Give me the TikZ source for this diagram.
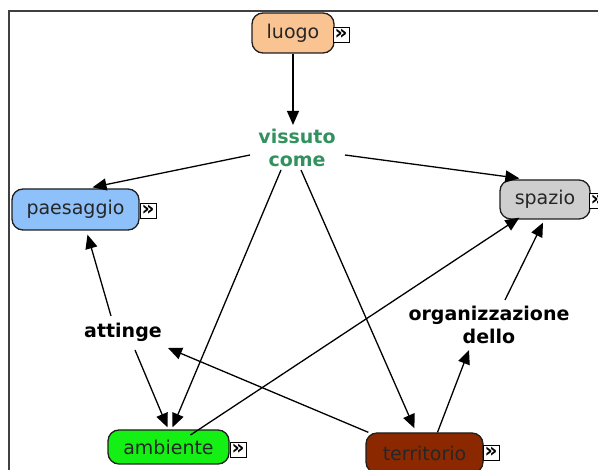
\documentclass[tikz,border=0pt]{standalone}
\usepackage{fontspec}
\setmainfont{DejaVu Sans}
\usetikzlibrary{arrows.meta,calc}
\definecolor{cLuogo}{RGB}{250,196,146}
\definecolor{cPaes}{RGB}{142,192,250}
\definecolor{cSpazio}{RGB}{206,206,206}
\definecolor{cAmb}{RGB}{20,240,20}
\definecolor{cTerr}{RGB}{140,40,0}
\definecolor{cViss}{RGB}{50,145,95}
\definecolor{cLine}{RGB}{30,30,30}
\tikzset{
  cbox/.style={draw=cLine, line width=1.3pt, rounded corners=11pt, inner sep=0pt,
    font=\fontsize{19}{23}\selectfont, text=black!85},
  lbl/.style={font=\fontsize{19}{23}\selectfont\bfseries, align=center, inner sep=2pt},
  icon/.style={draw=black, line width=0.9pt, fill=white, minimum width=16pt, minimum height=15pt,
    inner sep=0pt, font=\fontsize{20}{20}\selectfont\bfseries},
  arr/.style={draw=black, line width=1.3pt, -{Triangle[length=14pt,width=12pt]}},
  frame/.style={draw=black!75, line width=2pt}
}
\begin{document}
\begin{tikzpicture}[x=1pt,y=-1pt]
\useasboundingbox (0,0) rectangle (598,470);
\clip (0,0) rectangle (598,470);
\draw[frame] (9,472) -- (9,11) -- (600,11);

% nodes
\node[cbox, fill=cLuogo, minimum width=82pt, minimum height=40pt] (luogo) at (293,33) {luogo};
\node[icon] (luogoI) at (341,35) {\raisebox{1pt}{»}};
\node[lbl, text=cViss] (vissuto) at (297,148) {vissuto\\come};
\node[cbox, fill=cPaes, minimum width=127pt, minimum height=41pt] (paes) at (75.5,209.5) {paesaggio};
\node[icon] (paesI) at (148,211) {\raisebox{1pt}{»}};
\node[cbox, fill=cSpazio, minimum width=90pt, minimum height=39pt] (spazio) at (545,199.5) {spazio};
\node[icon] (spazioI) at (597,201) {\raisebox{1pt}{»}};
\node[lbl] (attinge) at (123,332) {attinge};
\node[lbl] (org) at (489,325) {organizzazione\\dello};
\node[cbox, fill=cAmb, minimum width=121pt, minimum height=34pt] (amb) at (168.5,447) {ambiente};
\node[icon] (ambI) at (238,450) {\raisebox{1pt}{»}};
\node[cbox, fill=cTerr, minimum width=117pt, minimum height=40pt] (terr) at (424.5,453) {territorio};
\node[icon] (terrI) at (491,453) {\raisebox{1pt}{»}};

% connectors
\draw[arr] (luogo.south) -- ($(luogo.south |- vissuto.north)+(0,-2)$);
\draw[arr] ($(vissuto.center)+(-47,7)$) -- ($(paes.north)+(17,-1)$);
\draw[arr] ($(vissuto.center)+(48,7)$) -- ($(spazio.north west)+(20,-1)$);
\draw[arr] ($(vissuto.center)+(-16,22)$) -- ($(amb.north)+(4,-2)$);
\draw[arr] ($(vissuto.center)+(4,22)$) -- ($(terr.north)+(-10,-4)$);
\draw[arr] ($(attinge.center)+(-12,-16)$) -- ($(paes.south)+(12,4)$);
\draw[arr] ($(attinge.center)+(12,18)$) -- ($(amb.north)+(-1,-2)$);
\draw[arr] ($(terr.north west)+(3,0)$) -- ($(attinge.center)+(45,16)$);
\draw[arr] ($(amb.center)+(22,-12)$) -- ($(spazio.south west)+(20,-2)$);
\draw[arr] ($(terr.north)+(13,0)$) -- ($(org.center)+(-20,25)$);
\draw[arr] ($(org.center)+(16,-25)$) -- ($(spazio.south)+(-2,3)$);
\end{tikzpicture}
\end{document}
